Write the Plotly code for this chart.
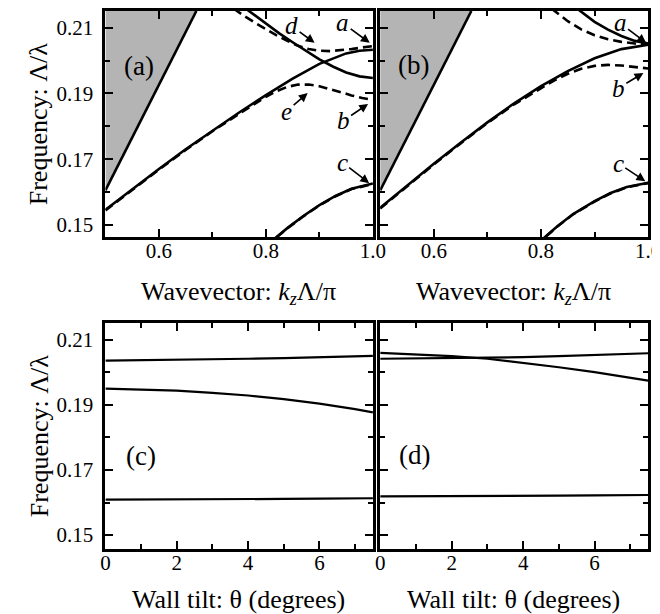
import plotly.graph_objects as go

# ---------------- data ----------------
# light line (gray light cone boundary), panels (a),(b)
light_k = [0.5, 0.67]
light_f = [0.1605, 0.2151]

# panel (a): theta = 0 (solid) and theta = 7.5 (dashed)
a_main_k = [0.5, 0.55, 0.6, 0.65, 0.7, 0.75, 0.8, 0.85, 0.9, 0.95, 0.975, 1.0]
a_main_solid = [0.1546, 0.1609, 0.1670, 0.1730, 0.1787, 0.1842, 0.1895, 0.1945, 0.1990, 0.2022, 0.2030, 0.2033]
a_main_dash_k = [0.5, 0.55, 0.6, 0.65, 0.7, 0.75, 0.78, 0.8, 0.82, 0.84, 0.86, 0.88, 0.9, 0.92, 0.94, 0.96, 0.98, 1.0]
a_main_dash = [0.1544, 0.1607, 0.1668, 0.1728, 0.1785, 0.1838, 0.1869, 0.1890, 0.1907, 0.1920, 0.1927, 0.1927, 0.1922, 0.1914, 0.1904, 0.1894, 0.1886, 0.1881]
a_up_k = [0.76, 0.8, 0.825, 0.85, 0.875, 0.9, 0.925, 0.95, 0.975, 1.0]
a_up_solid = [0.2161, 0.2113, 0.2083, 0.2056, 0.2031, 0.2004, 0.1982, 0.1964, 0.1952, 0.1947]
a_up_dash_k = [0.74, 0.76, 0.78, 0.8, 0.82, 0.84, 0.86, 0.88, 0.9, 0.92, 0.94, 0.96, 0.98, 1.0]
a_up_dash = [0.2158, 0.2135, 0.2115, 0.2095, 0.2077, 0.2060, 0.2045, 0.2035, 0.2030, 0.2029, 0.2031, 0.2035, 0.2040, 0.2044]
a_low_k = [0.80, 0.84, 0.87, 0.9, 0.93, 0.96, 1.0]
a_low_solid = [0.1436, 0.1490, 0.1527, 0.1560, 0.1588, 0.1610, 0.1626]
a_low_dash = [0.1435, 0.1489, 0.1526, 0.1559, 0.1587, 0.1609, 0.1624]

# panel (b)
b_main_k = [0.5, 0.55, 0.6, 0.65, 0.7, 0.75, 0.8, 0.85, 0.9, 0.95, 1.0]
b_main_solid = [0.1552, 0.1620, 0.1686, 0.1750, 0.1812, 0.1870, 0.1922, 0.1968, 0.2007, 0.2035, 0.2048]
b_main_dash_k = [0.5, 0.55, 0.6, 0.65, 0.7, 0.75, 0.8, 0.825, 0.85, 0.875, 0.9, 0.925, 0.95, 0.975, 1.0]
b_main_dash = [0.1550, 0.1618, 0.1684, 0.1748, 0.1810, 0.1867, 0.1917, 0.1940, 0.1960, 0.1975, 0.1984, 0.1987, 0.1985, 0.1980, 0.1976]
b_up_k = [0.87, 0.9, 0.925, 0.95, 0.975, 1.0]
b_up_solid = [0.2155, 0.2118, 0.2094, 0.2075, 0.2060, 0.2052]
b_up_dash_k = [0.82, 0.85, 0.875, 0.9, 0.925, 0.95, 0.975, 1.0]
b_up_dash = [0.2158, 0.2120, 0.2095, 0.2077, 0.2065, 0.2057, 0.2052, 0.2050]
b_low_k = [0.79, 0.83, 0.86, 0.9, 0.93, 0.96, 1.0]
b_low_solid = [0.1438, 0.1495, 0.1533, 0.1572, 0.1597, 0.1615, 0.1628]
b_low_dash = [0.1437, 0.1494, 0.1532, 0.1571, 0.1596, 0.1614, 0.1627]

# panels (c),(d): frequency vs wall tilt
theta = [0, 1, 2, 3, 4, 5, 6, 7, 7.5]
c_top = [0.2036, 0.2037, 0.2038, 0.2040, 0.2042, 0.2044, 0.2047, 0.2050, 0.2051]
c_mid = [0.1950, 0.1948, 0.1944, 0.1937, 0.1929, 0.1918, 0.1904, 0.1887, 0.1877]
c_bot = [0.1609, 0.1609, 0.1610, 0.1610, 0.1611, 0.1611, 0.1612, 0.1613, 0.1613]
d_one = [0.2060, 0.2055, 0.2050, 0.2042, 0.2030, 0.2016, 0.2001, 0.1985, 0.1975]
d_two = [0.2042, 0.2043, 0.2044, 0.2045, 0.2047, 0.2050, 0.2053, 0.2057, 0.2059]
d_bot = [0.1619, 0.1619, 0.1620, 0.1620, 0.1621, 0.1621, 0.1622, 0.1623, 0.1623]

y_ticks = [0.15, 0.17, 0.19, 0.21]
y_ticktext = ["0.15", "0.17", "0.19", "0.21"]
y_minor = [0.16, 0.18, 0.20]
k_ticks = [0.6, 0.8, 1.0]
k_ticktext = ["0.6", "0.8", "1.0"]
k_minor = [0.7, 0.9]
t_ticks = [0, 2, 4, 6]
t_ticktext = ["0", "2", "4", "6"]
t_minor = [1, 3, 5, 7]

Y_RANGE = [0.1463, 0.2151]
Y_RANGE_B = [0.1457, 0.2152]

# ---------------- figure ----------------
W, H = 660, 614
FONT = "Liberation Serif"
LW = 2.6

def px(x):
    return x / W

def py(y):
    return 1 - y / H

fig = go.Figure()

def line(x, y, ax, dash="solid", w=LW):
    fig.add_trace(go.Scatter(x=x, y=y, mode="lines", xaxis=ax[0], yaxis=ax[1],
                             line=dict(color="black", width=w, dash=dash),
                             showlegend=False, hoverinfo="skip"))

dash_style = "9px,5px"
for ax in [("x", "y"), ("x2", "y2")]:
    # gray light cone
    poly_x = [light_k[0]] + light_k + [light_k[0]]
    poly_y = [Y_RANGE[1]] + light_f + [Y_RANGE[1]]
    fig.add_trace(go.Scatter(x=poly_x, y=poly_y, mode="lines", fill="toself",
                             fillcolor="#b4b4b4", line=dict(width=0),
                             xaxis=ax[0], yaxis=ax[1], showlegend=False, hoverinfo="skip"))
    line(light_k, light_f, ax)

A = ("x", "y")
line(a_main_dash_k, a_main_dash, A, dash_style)
line(a_main_k, a_main_solid, A)
line(a_up_dash_k, a_up_dash, A, dash_style)
line(a_up_k, a_up_solid, A)
line(a_low_k, a_low_dash, A, dash_style)
line(a_low_k, a_low_solid, A)

B = ("x2", "y2")
line(b_main_dash_k, b_main_dash, B, dash_style)
line(b_main_k, b_main_solid, B)
line(b_up_dash_k, b_up_dash, B, dash_style)
line(b_up_k, b_up_solid, B)
line(b_low_k, b_low_dash, B, dash_style)
line(b_low_k, b_low_solid, B)

C = ("x3", "y3")
for s in (c_top, c_mid, c_bot):
    line(theta, s, C, w=2.2)
D = ("x4", "y4")
for s in (d_one, d_two, d_bot):
    line(theta, s, D, w=2.2)

tickfont = dict(family=FONT, size=21, color="black")

def xaxis(domain, rng, tv, tt, minor, anchor):
    return dict(domain=domain, range=rng, anchor=anchor, tickvals=tv, ticktext=tt,
                ticks="inside", ticklen=8, tickwidth=2.2, tickcolor="black",
                showline=True, linewidth=3, linecolor="black", mirror="ticks",
                showgrid=False, zeroline=False, tickfont=tickfont, ticklabelstandoff=-7,
                minor=dict(tickvals=minor, ticks="inside", ticklen=5, tickwidth=2.2,
                           tickcolor="black", showgrid=False))

def yaxis(domain, rng, anchor, labels):
    return dict(domain=domain, range=rng, anchor=anchor, tickvals=y_ticks,
                ticktext=y_ticktext, showticklabels=labels,
                ticks="inside", ticklen=8, tickwidth=2.2, tickcolor="black",
                showline=True, linewidth=3, linecolor="black", mirror="ticks",
                showgrid=False, zeroline=False, tickfont=tickfont, ticklabelstandoff=5,
                minor=dict(tickvals=y_minor, ticks="inside", ticklen=5, tickwidth=2.2,
                           tickcolor="black", showgrid=False))

xa = [px(95), px(370)]
xb = [px(377.5), px(653)]
ytop = [py(229), py(3)]
ybot = [py(541), py(315)]

fig.update_layout(
    width=W, height=H, margin=dict(l=0, r=0, t=0, b=0),
    paper_bgcolor="white", plot_bgcolor="white", showlegend=False,
    xaxis=xaxis(xa, [0.5, 1.0], k_ticks, k_ticktext, k_minor, "y"),
    yaxis=yaxis(ytop, Y_RANGE, "x", True),
    xaxis2=xaxis(xb, [0.5, 1.0], k_ticks, k_ticktext, k_minor, "y2"),
    yaxis2=yaxis(ytop, Y_RANGE, "x2", False),
    xaxis3=xaxis(xa, [0, 7.5], t_ticks, t_ticktext, t_minor, "y3"),
    yaxis3=yaxis(ybot, Y_RANGE_B, "x3", True),
    xaxis4=xaxis(xb, [0, 7.5], t_ticks, t_ticktext, t_minor, "y4"),
    yaxis4=yaxis(ybot, Y_RANGE_B, "x4", False),
)

ann = []
title_font = dict(family=FONT, size=26, color="black")

def label(text, x, y, font, angle=0):
    return dict(text=text, x=px(x), y=py(y), xref="paper", yref="paper",
                xanchor="center", yanchor="middle", textangle=angle,
                showarrow=False, font=font, borderpad=0)

for yc in (116, 428):
    ann.append(label("Frequency: Λ/λ", 27, yc, title_font, -90))
for xc in (232, 515):
    ann.append(label("Wavevector: <i>k<sub>z</sub></i>Λ/π", xc, 285, title_font))
    ann.append(label("Wall tilt: θ (degrees)", xc, 591, title_font))

panel_labels = [("(a)", 130, 58), ("(b)", 412, 57), ("(c)", 132, 448), ("(d)", 413, 447)]
for t, x, y in panel_labels:
    ann.append(label(t, x, y, dict(family=FONT, size=27, color="black")))

# arrow labels: (text, axis suffix, tip k, tip f, text offset px)
arrow_labels = [
    ("a", "", 0.994, 0.2054, -27, -20),
    ("b", "", 0.991, 0.1868, -25, 17),
    ("c", "", 0.993, 0.1627, -27, -21),
    ("d", "", 0.891, 0.2054, -23, -17),
    ("e", "", 0.878, 0.1901, -21, 18),
    ("a", "2", 0.996, 0.2054, -26, -20),
    ("b", "2", 0.991, 0.1962, -25, 15),
    ("c", "2", 0.9945, 0.1633, -27, -18),
]
for t, s, k, f, dx, dy in arrow_labels:
    ann.append(dict(text="<i>%s</i>" % t, x=k, y=f, xref="x" + s, yref="y" + s,
                    ax=dx, ay=dy, showarrow=True, arrowhead=2, arrowsize=1.1,
                    arrowwidth=1.6, arrowcolor="black", standoff=0, startstandoff=0,
                    font=dict(family=FONT, size=25, color="black")))

fig.update_layout(annotations=ann)
fig.write_html("out.html")
